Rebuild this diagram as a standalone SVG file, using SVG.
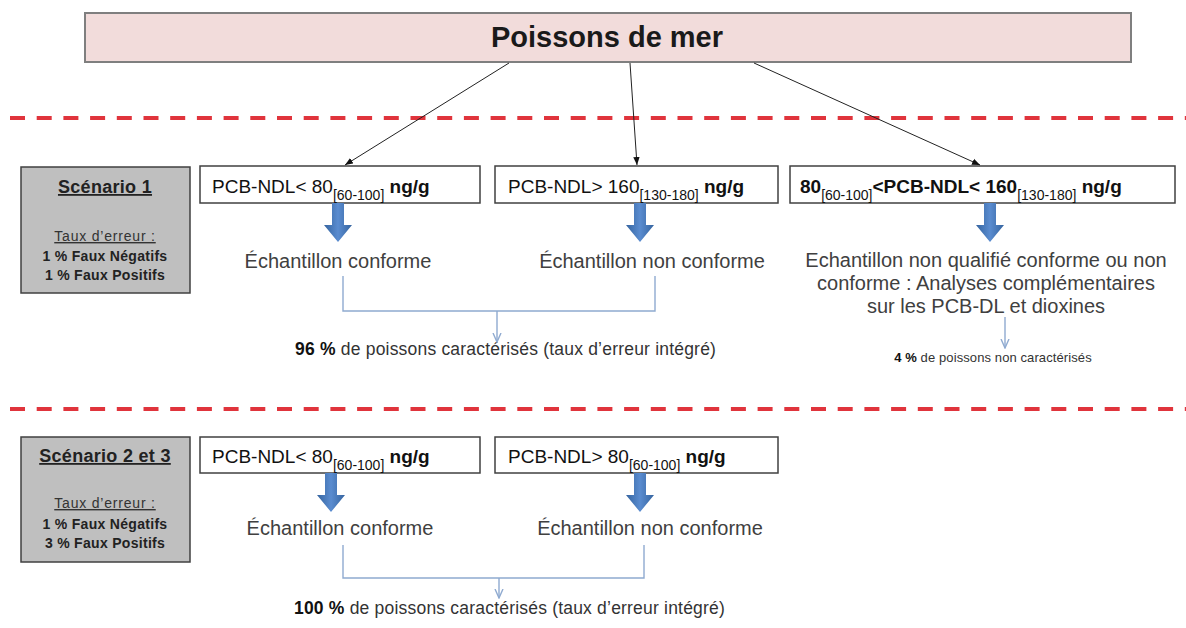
<svg xmlns="http://www.w3.org/2000/svg" width="1186" height="628" viewBox="0 0 1186 628">
<style>
text{font-family:"Liberation Sans",Arial,sans-serif}
.title{font-size:29px;font-weight:bold;fill:#1a1a1a}
.pcb{font-size:19px;fill:#111}
.b{font-weight:bold}
.sub{font-size:14px;font-weight:normal}
.body{font-size:20px;fill:#404040}
.res{font-size:17.5px;fill:#333;letter-spacing:0.2px}
.res2{font-size:13px;fill:#333;letter-spacing:0.1px}
.scn{font-size:18px;font-weight:bold;fill:#222;text-decoration:underline;letter-spacing:0.3px}
.taux{font-size:14px;fill:#333;text-decoration:underline;letter-spacing:0.8px}
.rate{font-size:14px;font-weight:bold;fill:#222;letter-spacing:0.3px}
.box{fill:#fff;stroke:#404040;stroke-width:1.5}
.gbox{fill:#bfbfbf;stroke:#404040;stroke-width:1.5}
.red{stroke:#e0343c;stroke-width:4;stroke-dasharray:15 11.7;fill:none}
.conn{stroke:#222;stroke-width:1;fill:none}
.br{stroke:#8faad0;stroke-width:1.4;fill:none}
</style>
<defs>
<marker id="ah" viewBox="0 0 10 10" refX="10" refY="5" markerWidth="8" markerHeight="8" markerUnits="userSpaceOnUse" orient="auto">
<path d="M0,1 L10,5 L0,9 Z" fill="#111"/>
</marker>
<marker id="oh" viewBox="0 0 10 10" refX="9" refY="5" markerWidth="10" markerHeight="10" markerUnits="userSpaceOnUse" orient="auto">
<path d="M0,1 L9,5 L0,9" fill="none" stroke="#8faad0" stroke-width="1.4"/>
</marker>
<linearGradient id="bg" x1="0" y1="0" x2="1" y2="0">
<stop offset="0" stop-color="#35649f"/>
<stop offset="0.5" stop-color="#5a8cd0"/>
<stop offset="1" stop-color="#35649f"/>
</linearGradient>
<path id="blue" d="M-6,0 L6,0 L6,22 L14,22 L0,39 L-14,22 L-6,22 Z" fill="url(#bg)"/>
</defs>

<g id="dividers">
<line class="red" x1="10" y1="118" x2="1186" y2="118"/>
<line class="red" x1="10" y1="409" x2="1186" y2="409"/>
</g>

<g id="poissons">
<rect x="85" y="13" width="1046" height="49" fill="#f2dcdb" stroke="#7f7f7f" stroke-width="2"/>
<text class="title" x="607" y="47" text-anchor="middle">Poissons de mer</text>
</g>

<g id="scenario1">
<rect class="gbox" x="21" y="167" width="169" height="126"/>
<text class="scn" x="105" y="193" text-anchor="middle">Scénario 1</text>
<text class="taux" x="105" y="241" text-anchor="middle">Taux d’erreur :</text>
<text class="rate" x="105" y="261" text-anchor="middle">1 % Faux Négatifs</text>
<text class="rate" x="105" y="280" text-anchor="middle">1 % Faux Positifs</text>
</g>

<g id="boxA">
<rect class="box" x="200" y="166" width="280" height="37"/>
<text class="pcb" x="212" y="193">PCB-NDL&lt; 80<tspan class="sub" dy="7">[60-100]</tspan><tspan class="b" dy="-7"> ng/g</tspan></text>
</g>
<g id="boxB">
<rect class="box" x="495" y="166" width="283" height="37"/>
<text class="pcb" x="508" y="193">PCB-NDL&gt; 160<tspan class="sub" dy="7">[130-180]</tspan><tspan class="b" dy="-7"> ng/g</tspan></text>
</g>
<g id="boxC">
<rect class="box" x="790" y="166" width="385" height="37"/>
<text class="pcb b" x="800" y="193">80<tspan class="sub" dy="7">[60-100]</tspan><tspan dy="-7">&lt;PCB-NDL&lt; 160</tspan><tspan class="sub" dy="7">[130-180]</tspan><tspan dy="-7"> ng/g</tspan></text>
</g>

<g id="conforme1">
<text class="body" x="338" y="268" text-anchor="middle">Échantillon conforme</text>
</g>
<g id="nonconforme1">
<text class="body" x="652" y="268" text-anchor="middle">Échantillon non conforme</text>
</g>
<g id="nonqualifie">
<text class="body" text-anchor="middle"><tspan x="986" y="267">Echantillon non qualifié conforme ou non</tspan><tspan x="986" y="290">conforme : Analyses complémentaires</tspan><tspan x="986" y="313">sur les PCB-DL et dioxines</tspan></text>
</g>
<g id="result96">
<text class="res" x="295" y="355"><tspan class="b" fill="#111">96 %</tspan> de poissons caractérisés (taux d’erreur intégré)</text>
</g>
<g id="result4">
<text class="res2" x="993" y="362" text-anchor="middle"><tspan class="b" fill="#111">4 %</tspan> de poissons non caractérisés</text>
</g>

<g id="scenario23">
<rect class="gbox" x="21" y="437" width="169" height="125"/>
<text class="scn" x="105" y="462" text-anchor="middle">Scénario 2 et 3</text>
<text class="taux" x="105" y="508" text-anchor="middle">Taux d’erreur :</text>
<text class="rate" x="105" y="529" text-anchor="middle">1 % Faux Négatifs</text>
<text class="rate" x="105" y="548" text-anchor="middle">3 % Faux Positifs</text>
</g>

<g id="boxD">
<rect class="box" x="200" y="437" width="280" height="36"/>
<text class="pcb" x="212" y="463">PCB-NDL&lt; 80<tspan class="sub" dy="7">[60-100]</tspan><tspan class="b" dy="-7"> ng/g</tspan></text>
</g>
<g id="boxE">
<rect class="box" x="495" y="437" width="283" height="36"/>
<text class="pcb" x="508" y="463">PCB-NDL&gt; 80<tspan class="sub" dy="7">[60-100]</tspan><tspan class="b" dy="-7"> ng/g</tspan></text>
</g>
<g id="conforme2">
<text class="body" x="340" y="535" text-anchor="middle">Échantillon conforme</text>
</g>
<g id="nonconforme2">
<text class="body" x="650" y="535" text-anchor="middle">Échantillon non conforme</text>
</g>
<g id="result100">
<text class="res" x="294" y="614"><tspan class="b" fill="#111">100 %</tspan> de poissons caractérisés (taux d’erreur intégré)</text>
</g>

<g id="connectors">
<line class="conn" x1="509" y1="63" x2="345" y2="165" marker-end="url(#ah)"/>
<line class="conn" x1="630" y1="63" x2="637" y2="165" marker-end="url(#ah)"/>
<line class="conn" x1="754" y1="63" x2="980" y2="165" marker-end="url(#ah)"/>
<use href="#blue" x="338" y="203"/>
<use href="#blue" x="640" y="203"/>
<use href="#blue" x="990" y="203"/>
<use href="#blue" x="331" y="473"/>
<use href="#blue" x="640" y="473"/>
<path class="br" d="M343,276 V311 H655 V276"/>
<line class="br" x1="497" y1="311" x2="497" y2="342" marker-end="url(#oh)"/>
<line class="br" x1="1005" y1="317" x2="1005" y2="348" marker-end="url(#oh)"/>
<path class="br" d="M343,545 V578 H644 V545"/>
<line class="br" x1="499" y1="578" x2="499" y2="598" marker-end="url(#oh)"/>
</g>
</svg>
